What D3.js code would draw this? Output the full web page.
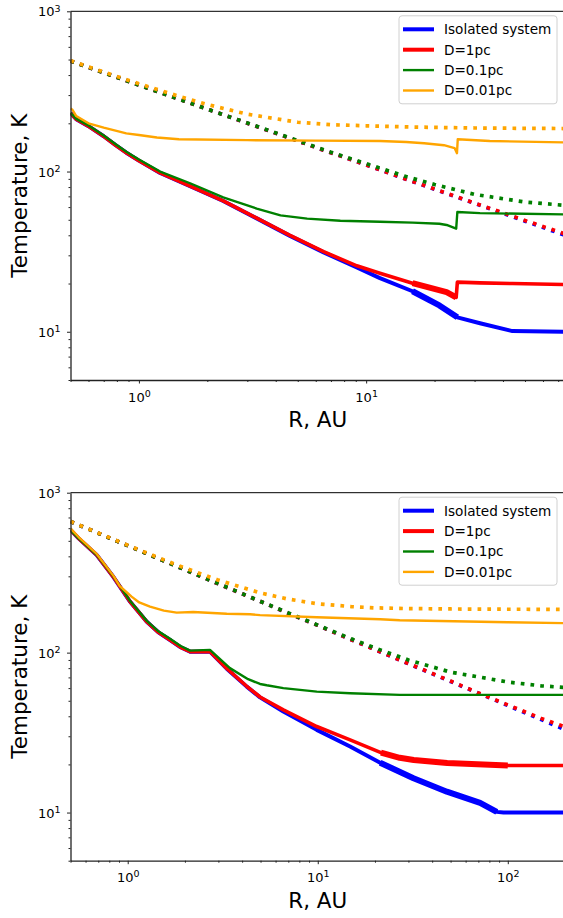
<!DOCTYPE html>
<html>
<head>
<meta charset="utf-8">
<script src="https://cdn.jsdelivr.net/npm/d3@7/dist/d3.min.js"></script>
<style>
body{margin:0;background:#fff}
text{font-family:"DejaVu Sans",sans-serif}
</style>
</head>
<body>
<svg id="chart" width="563" height="918"></svg>
<script>
// ---- data: [R (AU), T (K)] ----
var legendNames = ["Isolated system", "D=1pc", "D=0.1pc", "D=0.01pc"]
var colors = ["#0000ff", "#ff0000", "#008000", "#ffa500"]

// top panel, solid
var topIso = [[0.5,232],[0.51,225],[0.53,212],[0.6,192],[0.7,166],[0.79,146],[0.88,131],[1,117],[1.24,98],[1.68,81],[2.35,65.5],[3.3,51],[4.6,39.8],[6.5,31.3],[9.1,25.2],[11.5,21.6],[16,17.9],[21,14.6],[25.2,12.3],[31.7,11.3],[44,10.1],[75,10]]
var topD1 = [[0.5,232],[0.51,225],[0.53,212],[0.6,192],[0.7,166],[0.79,146],[0.88,131],[1,117],[1.24,98],[1.68,81],[2.35,65.6],[3.3,51.2],[4.6,40.1],[6.5,31.6],[9.1,25.8],[11.5,23.2],[16,20.1],[22.6,17.7],[24.9,16.4],[25.2,20.4],[31.7,20.2],[44,20],[75,19.7]]
var topD01 = [[0.5,232],[0.51,226],[0.53,213],[0.6,194],[0.7,168],[0.79,148],[0.88,133],[1,119],[1.24,100],[1.68,84.5],[2.35,69],[3.3,58.7],[4.2,53.3],[5.5,50.8],[7.7,49.3],[11.5,48.6],[16,48],[21,47.2],[22.6,46.4],[24.9,44],[25.2,55.9],[31.7,55],[75,54]]
var topD001 = [[0.5,247],[0.51,243],[0.53,222],[0.6,200],[0.7,188],[0.88,173],[1,169],[1.2,163],[1.5,159],[3,157],[6,156],[11.5,155],[15,153],[18,150],[22,146],[24.5,140],[25.1,130],[25.3,159],[35,155],[75,152]]
// top panel, dotted
var topDotR = [0.5,0.7,1,1.5,2,3,5,7,10,15,20,30,50,75]
var topDotIso = [490,414,346,283,245,200,155,131,110,89.5,77.5,63.3,49,40]
var topDotD1 = [490,414,346,283,245,200,155,131,110,89.6,77.7,63.6,49.5,40.8]
var topDotD01 = [490,414,346,283,245,201,156,132,112,93,83,72,64.5,61.5]
var topDotD001 = [492,418,353,295,262,228,203,196,193,190,188.5,187,186,185.5]

// bottom panel, solid
var botIso = [[0.5,585],[0.55,520],[0.687,408],[0.84,298],[1.03,208],[1.26,156],[1.45,134],[1.67,120],[1.9,108],[2.13,101.4],[2.71,101.5],[3.32,79.4],[4.23,61.3],[4.97,52.5],[6.59,42.8],[9.88,32.9],[14.8,25.9],[21.3,20.5],[31.9,16.4],[47.8,13.5],[71.5,11.5],[87.5,10.1],[95,10],[200,10]]
var botD1 = [[0.5,585],[0.55,520],[0.687,408],[0.84,298],[1.03,208],[1.26,156],[1.45,134],[1.67,120],[1.9,108],[2.13,101.4],[2.71,101.5],[3.32,79.6],[4.23,61.6],[4.97,52.8],[6.59,43.9],[9.88,34.5],[14.8,28.5],[21.5,23.7],[27,22],[32,21.3],[48,20.4],[100,19.7],[200,19.7]]
var botD01 = [[0.5,585],[0.55,520],[0.687,409],[0.84,300],[1.03,210],[1.26,158],[1.45,136],[1.67,122],[1.9,110],[2.13,103],[2.71,104],[3.0,93],[3.45,80],[4.3,68.2],[4.97,63.7],[5.39,62.5],[6.59,60],[9.88,57],[14.8,55.7],[27,54.4],[200,54.4]]
var botD001 = [[0.5,598],[0.55,530],[0.687,414],[0.84,303],[0.91,260],[1.048,224],[1.15,206],[1.31,194],[1.55,183],[1.81,178],[2.21,179.5],[3.32,175],[4.4,173.8],[4.97,171.5],[9.88,166.4],[21.3,161.7],[27,159.5],[100,155],[200,152.8]]
// bottom panel, dotted
var botDotR = [0.5,0.7,1,1.5,2,3,5,7,10,15,20,30,50,70,100,150,200]
var botDotIso = [660,558,467,381,330,269,209,176,148,120.5,104.4,85.2,66,55.8,46.7,38.1,33]
var botDotD1 = [660,558,467,381,330,269,209,176,148,120.5,104.5,85.4,66.4,56,47.1,38.8,34.3]
var botDotD01 = [660,558,467,381,330,270,209,177,148.5,122,107,90,75.5,70.5,65.5,62,60.5]
var botDotD001 = [661,560,470,386,338,284,236,216,202,194,190.5,188.5,187.5,187,186.8,186.6,186.5]

// R ranges where the simulated curve is jittery (drawn as a thicker band)
var topNoisy = [[0, 12, 26], [1, 14, 25]]
var botNoisy = [[0, 21, 88], [1, 21, 100], [2, 21, 100]]

var yMajor = [10, 100, 1000]
var yMinor = [5,6,7,8,9,20,30,40,50,60,70,80,90,200,300,400,500,600,700,800,900]
var topXMajor = [1, 10]
var topXMinor = [0.5,0.6,0.7,0.8,0.9,2,3,4,5,6,7,8,9,20,30,40,50,60,70]
var botXMajor = [1, 10, 100]
var botXMinor = [0.5,0.6,0.7,0.8,0.9,2,3,4,5,6,7,8,9,20,30,40,50,60,70,80,90,200]

var svg = d3.select("#chart")

function zipDots(R, T){ return R.map((r,i)=>[r, T[i]]) }

function supLabels(sel){
    sel.selectAll(".tick text").each(function(d){
        var t = d3.select(this)
        t.text(null)
        t.append("tspan").text("10")
        t.append("tspan").attr("dy","-0.5em").attr("font-size","9.5px").text(Math.round(Math.log10(d)))
    })
}

function drawPanel(top, bottom, xmax, xMajor, xMinor, solids, dots, noisy, idx){
    var left = 70.5, right = 565
    var x = d3.scaleLog().domain([0.5, xmax]).range([left, right])
    var y = d3.scaleLog().domain([5, 1000]).range([bottom, top])
    var g = svg.append("g")

    var clipId = "clip" + idx
    g.append("clipPath").attr("id", clipId).append("rect")
        .attr("x", left).attr("y", top).attr("width", right-left).attr("height", bottom-top)

    var line = d3.line().x(d=>x(d[0])).y(d=>y(d[1]))
    var plot = g.append("g").attr("clip-path", "url(#"+clipId+")")
    var solidW = [4, 3.6, 2.4, 2.4]
    for (var i=0;i<4;i++){
        plot.append("path").datum(solids[i])
            .attr("d", line).attr("fill","none")
            .attr("stroke", colors[i]).attr("stroke-width", solidW[i])
            .attr("stroke-linejoin","round")
        noisy.filter(n=>n[0]==i).forEach(function(n){
            plot.append("path").datum(solids[i].filter(d=>d[0]>=n[1] && d[0]<=n[2]))
                .attr("d", line).attr("fill","none")
                .attr("stroke", colors[i]).attr("stroke-width", i==2 ? 3.2 : 6)
                .attr("stroke-linejoin","round")
        })
        plot.append("path").datum(dots[i])
            .attr("d", line).attr("fill","none")
            .attr("stroke", colors[i]).attr("stroke-width", 3.7)
            .attr("stroke-dasharray","3.7,6.1")
    }

    // axes
    var xa = g.append("g").attr("transform", `translate(0,${bottom})`)
        .call(d3.axisBottom(x).tickValues(xMajor).tickSize(3.5).tickSizeOuter(0))
    supLabels(xa)
    xa.selectAll(".tick text").attr("y", 21.5).attr("dy", 0).attr("font-size", "13px").attr("fill","#000")
    g.append("g").attr("transform", `translate(0,${bottom})`)
        .call(d3.axisBottom(x).tickValues(xMinor).tickSize(2).tickFormat(""))
        .select(".domain").remove()

    var ya = g.append("g").attr("transform", `translate(${left},0)`)
        .call(d3.axisLeft(y).tickValues(yMajor).tickSize(3.5).tickSizeOuter(0))
    supLabels(ya)
    ya.selectAll(".tick text").attr("x", -10).attr("dy", "0.36em").attr("font-size", "13px").attr("fill","#000")
    g.append("g").attr("transform", `translate(${left},0)`)
        .call(d3.axisLeft(y).tickValues(yMinor).tickSize(2).tickFormat(""))
        .select(".domain").remove()

    g.selectAll(".domain").attr("stroke","#222").attr("stroke-width",1.3)
    g.selectAll(".tick line").attr("stroke","#222").attr("stroke-width",1)

    g.append("line").attr("x1", left).attr("x2", right).attr("y1", top).attr("y2", top)
        .attr("stroke","#000").attr("stroke-width",1)

    g.append("text").attr("x", (left+right)/2).attr("y", bottom+47)
        .attr("text-anchor","middle").attr("font-size","21.5px").text("R, AU")
    g.append("text").attr("transform", `translate(27,${(top+bottom)/2}) rotate(-90)`)
        .attr("text-anchor","middle").attr("font-size","21.5px").text("Temperature, K")

    // legend
    var lg = g.append("g")
    lg.append("rect").attr("x",399).attr("y",top+4.5).attr("width",158).attr("height",88)
        .attr("rx",3).attr("fill","#fff").attr("fill-opacity",0.8)
        .attr("stroke","#d0d0d0").attr("stroke-width",1)
    var legW = [4, 4, 2.4, 2.4]
    legendNames.forEach(function(name, i){
        var ly = top + 18 + i*20.4
        lg.append("line").attr("x1",403).attr("x2",434).attr("y1",ly).attr("y2",ly)
            .attr("stroke",colors[i]).attr("stroke-width",legW[i])
        lg.append("text").attr("x",444).attr("y",ly).attr("dy","0.36em")
            .attr("font-size","13.6px").text(name)
    })
}

drawPanel(11.3, 380, 75, topXMajor, topXMinor,
    [topIso, topD1, topD01, topD001],
    [zipDots(topDotR, topDotIso), zipDots(topDotR, topDotD1), zipDots(topDotR, topDotD01), zipDots(topDotR, topDotD001)],
    topNoisy, 0)
drawPanel(492.7, 860.7, 200, botXMajor, botXMinor,
    [botIso, botD1, botD01, botD001],
    [zipDots(botDotR, botDotIso), zipDots(botDotR, botDotD1), zipDots(botDotR, botDotD01), zipDots(botDotR, botDotD001)],
    botNoisy, 1)
</script>
</body>
</html>
